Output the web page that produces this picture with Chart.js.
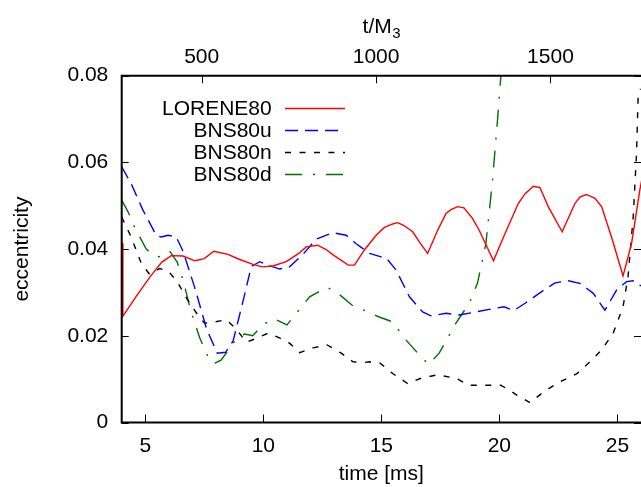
<!DOCTYPE html>
<html><head><meta charset="utf-8">
<script src="https://cdn.jsdelivr.net/npm/chart.js@4"></script>
<style>html,body{margin:0;padding:0;background:#fff}</style>
</head><body>
<canvas id="c" width="641" height="487"></canvas>
<script>
// ---- data ----
const xTicks = [5, 10, 15, 20, 25];
const x2Ticks = [500, 1000, 1500];
const yTicks = [0, 0.02, 0.04, 0.06, 0.08];
const yTickLabels = ['0', '0.02', '0.04', '0.06', '0.08'];
const seriesNames = ['LORENE80', 'BNS80u', 'BNS80n', 'BNS80d'];

const loreneT = [4.02, 4.05, 4.6, 5.2, 5.7, 6.1, 6.6, 7.1, 7.5, 7.9, 8.5, 9.0, 9.5, 9.95, 10.4, 10.97, 11.5, 11.82, 12.3, 12.66, 13.0, 13.6, 13.86, 14.28, 14.78, 15.13, 15.48, 15.69, 15.94, 16.33, 16.6, 16.96, 17.4, 17.74, 17.95, 18.23, 18.5, 18.86, 19.14, 19.75, 20.24, 20.8, 21.09, 21.44, 21.72, 22.07, 22.66, 23.2, 23.41, 23.69, 24.05, 24.33, 24.75, 25.24, 25.6, 25.95, 26.1];
const loreneE = [0.0414, 0.0245, 0.0290, 0.0336, 0.0370, 0.0385, 0.0384, 0.0373, 0.0378, 0.0395, 0.0388, 0.0376, 0.0366, 0.0359, 0.0361, 0.0371, 0.0390, 0.0405, 0.0409, 0.0399, 0.0385, 0.0363, 0.0363, 0.0398, 0.0432, 0.0450, 0.0458, 0.0461, 0.0455, 0.0440, 0.0417, 0.0390, 0.0445, 0.0482, 0.0491, 0.0498, 0.0495, 0.0471, 0.0444, 0.0373, 0.0436, 0.0505, 0.0528, 0.0545, 0.0542, 0.0498, 0.0440, 0.0505, 0.0520, 0.0526, 0.0517, 0.0498, 0.0428, 0.0338, 0.0413, 0.0536, 0.0580];

const bnsuT = [4.0, 4.4, 4.9, 5.46, 5.67, 5.96, 6.31, 6.6, 7.1, 7.6, 8.05, 8.4, 8.72, 9.14, 9.49, 9.85, 10.2, 10.69, 11.11, 11.68, 12.24, 12.94, 13.51, 13.92, 14.5, 14.99, 15.2, 15.62, 16.19, 16.75, 17.1, 17.74, 18.3, 19.0, 19.78, 20.2, 20.6, 21.09, 21.79, 22.36, 22.92, 23.41, 23.98, 24.47, 24.96, 25.39, 25.67, 26.0];
const bnsuE = [0.0590, 0.0551, 0.0490, 0.0432, 0.0428, 0.0432, 0.0428, 0.0395, 0.0310, 0.0215, 0.0160, 0.0162, 0.0188, 0.0280, 0.0360, 0.0371, 0.0363, 0.0354, 0.0359, 0.0388, 0.0423, 0.0438, 0.0432, 0.0413, 0.0390, 0.0382, 0.0380, 0.0352, 0.0290, 0.0255, 0.0246, 0.0252, 0.0248, 0.0255, 0.0263, 0.0267, 0.0258, 0.0275, 0.0302, 0.0322, 0.0327, 0.0321, 0.0298, 0.0259, 0.0305, 0.0325, 0.0327, 0.0315];

const bnsnT = [4.0, 4.4, 4.83, 5.18, 5.6, 5.96, 6.35, 6.8, 7.2, 7.51, 7.94, 8.44, 8.86, 9.28, 9.7, 10.2, 10.69, 11.11, 11.54, 12.1, 12.7, 13.3, 13.8, 14.2, 14.5, 14.95, 15.48, 16.11, 16.68, 17.38, 18.16, 18.72, 19.43, 20.06, 20.5, 20.74, 21.3, 21.93, 22.57, 23.27, 23.76, 24.33, 24.82, 25.24, 25.45, 25.67, 25.81, 25.88, 25.98];
const bnsnE = [0.0474, 0.0428, 0.0367, 0.0342, 0.0355, 0.0350, 0.0325, 0.0282, 0.0250, 0.0229, 0.0232, 0.0237, 0.0215, 0.0185, 0.0194, 0.0206, 0.0195, 0.0183, 0.0161, 0.0172, 0.0179, 0.0160, 0.0140, 0.0138, 0.0140, 0.0137, 0.0113, 0.0090, 0.0102, 0.0110, 0.0102, 0.0086, 0.0086, 0.0086, 0.0072, 0.0063, 0.0046, 0.0073, 0.0094, 0.0112, 0.0136, 0.0167, 0.0206, 0.0267, 0.0336, 0.0474, 0.0620, 0.0755, 0.0770];

const bnsdT = [4.0, 4.27, 4.55, 5.04, 5.39, 5.67, 6.05, 6.35, 6.6, 6.92, 7.3, 7.65, 7.9, 8.21, 8.56, 8.9, 9.2, 9.55, 9.98, 10.48, 11.0, 11.5, 11.96, 12.7, 13.23, 13.75, 14.3, 14.88, 15.48, 16.05, 16.61, 17.0, 17.45, 18.16, 18.72, 19.07, 19.43, 19.71, 19.92, 20.06, 20.15];
const bnsdE = [0.0513, 0.0486, 0.0450, 0.0400, 0.0384, 0.0382, 0.0394, 0.0370, 0.0329, 0.0259, 0.0196, 0.0152, 0.0136, 0.0144, 0.0170, 0.0196, 0.0204, 0.0200, 0.0226, 0.0239, 0.0225, 0.0259, 0.0290, 0.0312, 0.0295, 0.0271, 0.0258, 0.0244, 0.0232, 0.0190, 0.0156, 0.0134, 0.0160, 0.0229, 0.0275, 0.0321, 0.0413, 0.0559, 0.0697, 0.0797, 0.0860];

const MS_PER_M3 = 3 * 4.9255e-3; // one M3 (3 solar masses) in ms
const FONT = '"Liberation Sans", Arial, Helvetica, sans-serif';

function pts(ts, es) { return ts.map((t, i) => ({x: t, y: es[i]})); }

const styles = [
  {color: '#ff0000', dash: []},
  {color: '#0000ff', dash: [13, 7]},
  {color: '#000000', dash: [6, 8.5]},
  {color: '#007000', dash: [17, 11, 2, 11]}
];
const seriesData = [pts(loreneT, loreneE), pts(bnsuT, bnsuE), pts(bnsnT, bnsnE), pts(bnsdT, bnsdE)];

const datasets = seriesNames.map((n, i) => ({
  label: n,
  data: seriesData[i],
  borderColor: styles[i].color,
  borderDash: styles[i].dash,
  borderWidth: 1.4,
  pointRadius: 0,
  tension: 0,
  fill: false
}));

const framePlugin = {
  id: 'frame',
  afterDraw(chart) {
    const {ctx, chartArea: a, scales} = chart;
    ctx.save();
    // inward ticks
    ctx.strokeStyle = '#000';
    ctx.lineWidth = 1;
    ctx.beginPath();
    xTicks.forEach(v => {
      const px = Math.round(scales.x.getPixelForValue(v)) + 0.5;
      ctx.moveTo(px, a.bottom); ctx.lineTo(px, a.bottom - 8);
    });
    x2Ticks.forEach(v => {
      const px = Math.round(scales.x2.getPixelForValue(v)) + 0.5;
      ctx.moveTo(px, a.top); ctx.lineTo(px, a.top + 7.5);
    });
    yTicks.forEach(v => {
      const py = Math.round(scales.y.getPixelForValue(v)) + 0.5;
      ctx.moveTo(a.left, py); ctx.lineTo(a.left + 7, py);
      ctx.moveTo(a.right, py); ctx.lineTo(a.right - 7, py);
    });
    ctx.stroke();
    // border (left, top, bottom)
    ctx.lineWidth = 2;
    ctx.beginPath();
    ctx.moveTo(a.right + 2, a.top); ctx.lineTo(a.left, a.top);
    ctx.lineTo(a.left, a.bottom); ctx.lineTo(a.right + 2, a.bottom);
    ctx.stroke();
    // legend
    ctx.font = '21px ' + FONT;
    ctx.fillStyle = '#000';
    ctx.textAlign = 'right';
    ctx.textBaseline = 'middle';
    chart.data.datasets.forEach((ds, i) => {
      const y = 108.3 + i * 21.9;
      ctx.fillText(ds.label, 271.7, y + 1);
      ctx.strokeStyle = ds.borderColor;
      ctx.lineWidth = 1.4;
      ctx.setLineDash(ds.borderDash || []);
      ctx.beginPath();
      ctx.moveTo(285, Math.round(y) + 0.5); ctx.lineTo(345, Math.round(y) + 0.5);
      ctx.stroke();
      ctx.setLineDash([]);
    });
    // top axis title t/M3
    const main = 't/M', sub = '3';
    ctx.font = '21px ' + FONT;
    const w1 = ctx.measureText(main).width;
    ctx.font = '15px ' + FONT;
    const w2 = ctx.measureText(sub).width;
    const cx = (a.left + a.right) / 2;
    const x0 = cx - (w1 + w2) / 2;
    ctx.textAlign = 'left';
    ctx.textBaseline = 'alphabetic';
    ctx.font = '21px ' + FONT;
    ctx.fillText(main, x0, 33);
    ctx.font = '15px ' + FONT;
    ctx.fillText(sub, x0 + w1 + 0.5, 37.5);
    ctx.restore();
  }
};

const tickFont = {family: FONT, size: 21};

new Chart(document.getElementById('c'), {
  type: 'line',
  data: {datasets},
  options: {
    responsive: false,
    animation: false,
    devicePixelRatio: 1,
    layout: {padding: 0},
    plugins: {legend: {display: false}, tooltip: {enabled: false}, title: {display: false}},
    scales: {
      x: {
        type: 'linear', position: 'bottom', min: 4, max: 26,
        afterBuildTicks: s => { s.ticks = xTicks.map(v => ({value: v})); },
        afterFit: s => { s.height = 64.5; },
        ticks: {font: tickFont, color: '#000', padding: 11, maxRotation: 0, autoSkip: false,
          callback: v => String(v)},
        grid: {display: false, drawTicks: false},
        border: {display: false},
        title: {display: true, text: 'time [ms]', font: tickFont, color: '#000', padding: {top: 0, bottom: 0}}
      },
      x2: {
        type: 'linear', position: 'top', min: 4 / MS_PER_M3, max: 26 / MS_PER_M3,
        afterBuildTicks: s => { s.ticks = x2Ticks.map(v => ({value: v})); },
        afterFit: s => { s.height = 75.7; },
        ticks: {font: tickFont, color: '#000', padding: 6.3, maxRotation: 0, autoSkip: false,
          callback: v => String(v)},
        grid: {display: false, drawTicks: false},
        border: {display: false}
      },
      y: {
        type: 'linear', position: 'left', min: 0, max: 0.08,
        afterBuildTicks: s => { s.ticks = yTicks.map(v => ({value: v})); },
        afterFit: s => { s.width = 121.7; },
        ticks: {font: tickFont, color: '#000', padding: 13.4,
          callback: (v) => { const i = yTicks.findIndex(t => Math.abs(t - v) < 1e-9); return i >= 0 ? yTickLabels[i] : ''; }},
        grid: {display: false, drawTicks: false},
        border: {display: false},
        title: {display: true, text: 'eccentricity', font: tickFont, color: '#000', padding: {top: 9.2, bottom: 0}}
      }
    }
  },
  plugins: [framePlugin]
});
</script>
</body></html>
